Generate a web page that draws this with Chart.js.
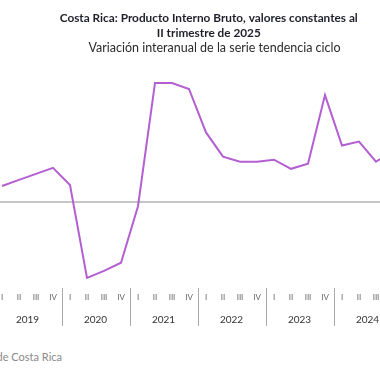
<!DOCTYPE html>
<html>
<head>
<meta charset="utf-8">
<script src="https://cdn.jsdelivr.net/npm/chart.js@4"></script>
<style>
  body { margin: 0; background: #fff; }
  #wrap { position: relative; width: 380px; height: 380px; overflow: hidden; }
  #box { position: absolute; left: -40px; top: 0; width: 500px; height: 340px; }
  #fuente { position: absolute; right: 318px; top: 350px; white-space: nowrap;
    font-family: Lato, sans-serif; font-size: 11px; color: #8a8a8a; }
</style>
</head>
<body>
<div id="wrap">
  <div id="box"><canvas id="myChart" width="500" height="340"></canvas></div>
  <div id="fuente">Fuente: Banco Central de Costa Rica</div>
</div>
<script>
'use strict';

// trimestres y años
let quarters = ['I', 'II', 'III', 'IV'];
let years = ['2019', '2020', '2021', '2022', '2023', '2024', '2025'];
let quarterLabels = [];
for (let y = 0; y < years.length; y++) {
    for (let q = 0; q < quarters.length; q++) {
        if (years[y] === '2025' && q > 1) break;
        quarterLabels.push(quarters[q]);
    }
}

// variación interanual (%) serie tendencia ciclo
let variacion = [
    1.6, 2.2, 2.8, 3.4,
    1.7, -7.5, -6.8, -6.0,
    -0.4, 11.8, 11.8, 11.2,
    6.9, 4.5, 4.0, 4.0,
    4.2, 3.3, 3.8, 10.6,
    5.6, 6.0, 4.0, 5.1,
    4.8, 4.6
];

let yearCenters = [];
for (let i = 0; i < years.length; i++) {
    let n = years[i] === '2025' ? 2 : 4;
    yearCenters.push(i * 4 + (n - 1) / 2);
}

// líneas separadoras entre años
let separators = {
    id: 'separators',
    afterDraw(chart) {
        let ctx = chart.ctx;
        let x = chart.scales.x;
        let top = chart.chartArea.bottom + 2;
        let bottom = chart.scales.x2.bottom - 7;
        ctx.save();
        ctx.strokeStyle = '#a8a8a8';
        ctx.lineWidth = 1;
        for (let i = 0; i <= quarterLabels.length; i += 4) {
            let px = Math.round(x.getPixelForValue(i - 0.5)) + 0.5;
            ctx.beginPath();
            ctx.moveTo(px, top);
            ctx.lineTo(px, bottom);
            ctx.stroke();
        }
        ctx.restore();
    }
};

let ctx = document.getElementById('myChart').getContext('2d');
let chart = new Chart(ctx, {
    type: 'line',
    data: {
        labels: quarterLabels,
        datasets: [{
            data: variacion,
            borderColor: '#b35fd1',
            borderWidth: 2,
            pointRadius: 0,
            tension: 0,
            fill: false
        }]
    },
    plugins: [separators],
    options: {
        responsive: false,
        animation: false,
        layout: { padding: { left: 33.5, right: 24.5, top: 0, bottom: 7 } },
        plugins: {
            legend: { display: false },
            tooltip: { enabled: false },
            title: {
                display: true,
                // espacios al final para correr el título un poco a la izquierda
                text: ['Costa Rica: Producto Interno Bruto, valores constantes al    ', 'II trimestre de 2025    '],
                color: '#1f1f2b',
                font: { family: 'Lato', size: 11.8, weight: 'bold', lineHeight: 1.28 },
                padding: { top: 10.5, bottom: 0 }
            },
            subtitle: {
                display: true,
                text: 'Variación interanual de la serie tendencia ciclo',
                color: '#2b2b2b',
                font: { family: 'Lato', size: 12.5, lineHeight: 1.2 },
                padding: { top: 0, bottom: 4 }
            }
        },
        scales: {
            x: {
                position: 'bottom',
                weight: 0,
                offset: true,
                grid: { display: false, drawTicks: false },
                border: { display: false },
                ticks: {
                    autoSkip: false,
                    maxRotation: 0,
                    padding: 7,
                    color: '#666',
                    font: { family: 'Lato', size: 8 }
                },
                afterFit(scale) { scale.height = 22; }
            },
            x2: {
                type: 'linear',
                position: 'bottom',
                weight: 1,
                min: -0.5,
                max: quarterLabels.length - 0.5,
                grid: { display: false, drawTicks: false },
                border: { display: false },
                afterBuildTicks(scale) {
                    scale.ticks = yearCenters.map(v => ({ value: v }));
                },
                ticks: {
                    padding: 6,
                    color: '#333',
                    font: { family: 'Lato', size: 10 },
                    callback: function (value) {
                        let i = yearCenters.indexOf(value);
                        return i >= 0 ? years[i] : '';
                    }
                },
                afterFit(scale) { scale.height = 25; }
            },
            y: {
                min: -8.3,
                max: 14.1,
                ticks: { display: false },
                border: { display: false },
                grid: {
                    drawTicks: false,
                    color: c => c.tick && c.tick.value === 0 ? '#c6c6c6' : 'rgba(0,0,0,0)',
                    lineWidth: 2
                },
                afterBuildTicks(scale) {
                    scale.ticks = [{ value: 0 }];
                }
            }
        }
    }
});
</script>
</body>
</html>
